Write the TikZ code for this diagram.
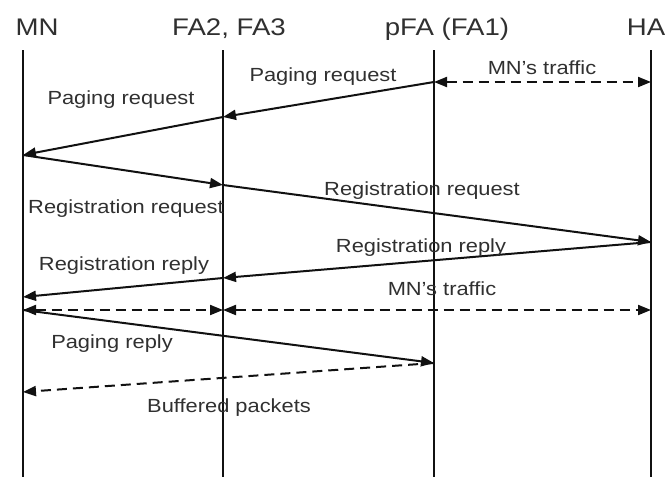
\documentclass[tikz,border=0pt]{standalone}
\usepackage{fontspec}
\usepackage{graphicx}
\setmainfont{Liberation Sans}
\usetikzlibrary{arrows.meta}

\definecolor{inkline}{HTML}{111111}
\definecolor{inktext}{HTML}{303030}

% widened sans text, as in the original drawing tool
\newcommand\widetxt[1]{\scalebox{1.15}[1]{#1}}

\tikzset{
  tip/.tip={Triangle[length=13pt,width=10pt]},
  lifeline/.style={draw=inkline, line width=1.5pt},
  msg/.style={draw=inkline, line width=2pt, -tip},
  msgdash/.style={msg, dash pattern=on 10pt off 6pt},
  bidash/.style={draw=inkline, line width=2pt, dash pattern=on 10pt off 6pt,
    tip-tip},
  head/.style={anchor=base, inner sep=0pt, text=inktext,
    font=\fontsize{24}{28}\selectfont},
  lbl/.style={anchor=base, inner sep=0pt, text=inktext,
    font=\fontsize{19}{22}\selectfont},
}

\begin{document}
\begin{tikzpicture}[x=1pt, y=-1pt]
\useasboundingbox (0,0) rectangle (665,477);
\fill[white] (0,0) rectangle (665,477);

% entity headings
\node[head] (hMN)  at (37,35)  {\widetxt{MN}};
\node[head] (hFA)  at (229,35) {\widetxt{FA2, FA3}};
\node[head] (hpFA) at (447,35) {\widetxt{pFA (FA1)}};
\node[head] (hHA)  at (646,35) {\widetxt{HA}};

% lifelines
\coordinate (mnT) at (23,50);   \coordinate (mnB) at (23,477);
\coordinate (faT) at (223,50);  \coordinate (faB) at (223,477);
\coordinate (pfT) at (434,50);  \coordinate (pfB) at (434,477);
\coordinate (haT) at (651,50);  \coordinate (haB) at (651,477);
\draw[lifeline] (mnT) -- (mnB);
\draw[lifeline] (faT) -- (faB);
\draw[lifeline] (pfT) -- (pfB);
\draw[lifeline] (haT) -- (haB);

% message end points on the lifelines
\coordinate (pf1) at (434,82);  \coordinate (ha1) at (651,82);
\coordinate (fa1) at (223,117);
\coordinate (mn1) at (23,155);
\coordinate (fa2) at (223,185);
\coordinate (ha2) at (651,242);
\coordinate (fa3) at (223,278);
\coordinate (mn2) at (23,297);
\coordinate (mn3) at (23,310);  \coordinate (fa4) at (223,310);
\coordinate (ha3) at (651,310);
\coordinate (pf2) at (434,363);
\coordinate (mn4) at (23,392);

% messages
\draw[bidash] (pf1) -- (ha1);
\draw[msg] (pf1) -- (fa1);
\draw[msg] (fa1) -- (mn1);
\draw[msg] (mn1) -- (fa2);
\draw[msg] (fa2) -- (ha2);
\draw[msg] (ha2) -- (fa3);
\draw[msg] (fa3) -- (mn2);
\draw[bidash] (mn3) -- (fa4);
\draw[bidash] (fa4) -- (ha3);
\draw[msg] (mn3) -- (pf2);
\draw[msgdash] (pf2) -- (mn4);

% message labels
\node[lbl] (tTraffic1) at (542,74)  {\widetxt{MN's traffic}};
\node[lbl] (tPage1)    at (323,81)  {\widetxt{Paging request}};
\node[lbl] (tPage2)    at (121,104) {\widetxt{Paging request}};
\node[lbl] (tReg1)     at (422,195) {\widetxt{Registration request}};
\node[lbl] (tReg2)     at (126,213) {\widetxt{Registration request}};
\node[lbl] (tRep1)     at (421,252) {\widetxt{Registration reply}};
\node[lbl] (tRep2)     at (124,270) {\widetxt{Registration reply}};
\node[lbl] (tTraffic2) at (442,295) {\widetxt{MN's traffic}};
\node[lbl] (tPrep)     at (112,348) {\widetxt{Paging reply}};
\node[lbl] (tBuf)      at (229,412) {\widetxt{Buffered packets}};
\end{tikzpicture}
\end{document}
